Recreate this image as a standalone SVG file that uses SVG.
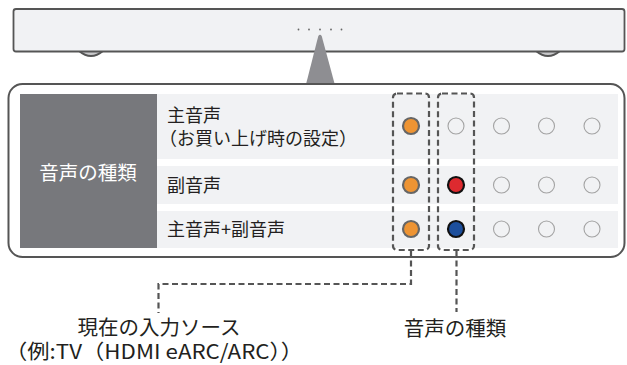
<svg xmlns="http://www.w3.org/2000/svg" width="627" height="365" viewBox="0 0 627 365">
<style>
text{font-family:"Noto Sans CJK JP","Noto Sans",sans-serif;fill:#231f20}
.lbl{font-size:18px}
.big{font-size:20.5px}
.row{fill:#f1f2f4}
.box{fill:none;stroke:#555;stroke-width:2.2;stroke-dasharray:6 3.5}
.lead{fill:none;stroke:#555;stroke-width:2.2;stroke-dasharray:6 3.5}
.empty{fill:none;stroke:#a3a3a3;stroke-width:1.1}
.src{fill:#ee9433;stroke:#666;stroke-width:2.2}
.dot{fill:#666}
</style>
<g id="soundbar">
<path d="M79 51 Q91 61 103 51 Z" fill="#c9c9cb" stroke="#555" stroke-width="1.8"/>
<path d="M536 51 Q548 61 560 51 Z" fill="#c9c9cb" stroke="#555" stroke-width="1.8"/>
<rect x="13.5" y="9" width="611" height="42.5" rx="2.5" fill="#f1f2f4" stroke="#555" stroke-width="1.8"/>
<circle class="dot" cx="298.5" cy="29.5" r="0.9"/>
<circle class="dot" cx="309" cy="29.5" r="0.9"/>
<circle class="dot" cx="320" cy="29.5" r="0.9"/>
<circle class="dot" cx="331" cy="29.5" r="0.9"/>
<circle class="dot" cx="341.5" cy="29.5" r="0.9"/>
<path d="M318.3 36 Q320 33.5 321.7 36 L339 100 L302 100 Z" fill="#8e8e92"/>
</g>
<g id="panel">
<rect x="8.5" y="84" width="616" height="173" rx="14" fill="#fff" stroke="#555" stroke-width="2"/>
<rect x="20" y="94" width="137" height="154" fill="#77787c"/>
<text x="88" y="180" text-anchor="middle" style="font-size:19.5px;fill:#fff">音声の種類</text>
<rect class="row" x="157" y="94" width="461" height="65"/>
<rect class="row" x="157" y="166" width="461" height="38"/>
<rect class="row" x="157" y="211" width="461" height="37"/>
<text class="lbl" x="167" y="121.5">主音声</text>
<text class="lbl" x="159" y="144.5">（お買い上げ時の設定）</text>
<text class="lbl" x="167" y="192">副音声</text>
<text class="lbl" x="167" y="236">主音声+副音声</text>
</g>
<g id="indicators">
<circle class="src" cx="411" cy="126" r="8"/>
<circle class="src" cx="411" cy="185" r="8"/>
<circle class="src" cx="411" cy="229" r="8"/>
<circle cx="456" cy="185" r="8" fill="#dd2a2f" stroke="#111" stroke-width="2.2"/>
<circle cx="456" cy="229" r="8" fill="#1d4f9c" stroke="#111" stroke-width="2.2"/>
<circle class="empty" cx="456" cy="126" r="8"/>
<circle class="empty" cx="501.5" cy="126" r="8"/>
<circle class="empty" cx="546.5" cy="126" r="8"/>
<circle class="empty" cx="592" cy="126" r="8"/>
<circle class="empty" cx="501.5" cy="185" r="8"/>
<circle class="empty" cx="546.5" cy="185" r="8"/>
<circle class="empty" cx="592" cy="185" r="8"/>
<circle class="empty" cx="501.5" cy="229" r="8"/>
<circle class="empty" cx="546.5" cy="229" r="8"/>
<circle class="empty" cx="592" cy="229" r="8"/>
</g>
<g id="highlight-boxes">
<rect class="box" x="393" y="93.5" width="36" height="156.5" rx="4"/>
<rect class="box" x="438" y="93.5" width="36" height="156.5" rx="4"/>
</g>
<g id="connectors">
<path class="lead" d="M411 251 V284 H158.5 V313"/>
<path class="lead" d="M456.5 251 V312"/>
</g>
<g id="label-source">
<text class="big" x="159" y="335" text-anchor="middle">現在の入力ソース</text>
<text class="big" x="5" y="359" textLength="298" lengthAdjust="spacingAndGlyphs">（例:TV（HDMI eARC/ARC））</text>
</g>
<g id="label-type">
<text class="big" x="455" y="336" text-anchor="middle">音声の種類</text>
</g>
</svg>
